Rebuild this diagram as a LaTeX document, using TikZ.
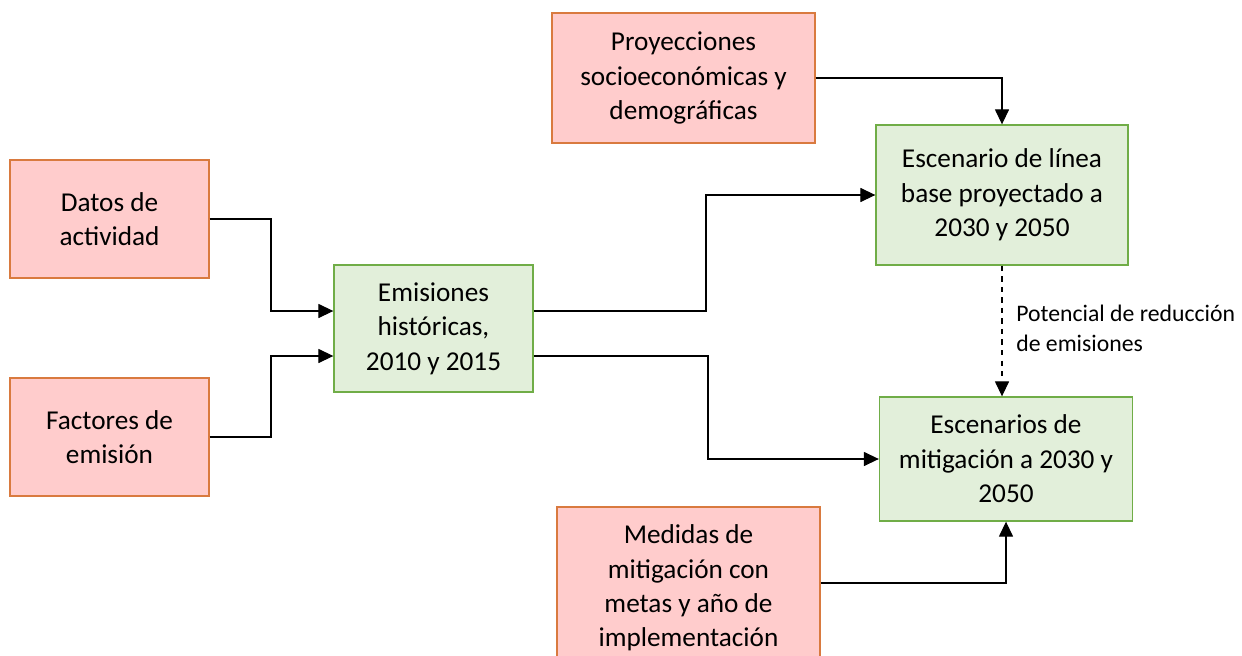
\documentclass[tikz,border=0pt]{standalone}
\usepackage{fontspec}
\setmainfont{Carlito}
\usetikzlibrary{arrows.meta}
\definecolor{redfill}{HTML}{FFCCCC}
\definecolor{redline}{HTML}{D97A3F}
\definecolor{greenfill}{HTML}{E2EFDA}
\definecolor{greenline}{HTML}{70AD47}
\tikzset{
  box/.style={draw, line width=0.8pt, align=center, inner sep=2pt,
    font=\fontsize{15.5}{19.6}\selectfont},
  redbox/.style={box, fill=redfill, draw=redline},
  greenbox/.style={box, fill=greenfill, draw=greenline},
  arr/.style={line width=0.6pt, -{Triangle[length=8.5pt,width=8pt]}}
}

\begin{document}
\begin{tikzpicture}[x=0.02cm, y=-0.02cm]
    \useasboundingbox (0,0) rectangle (1242,656);
    % inputs
    \node[redbox, minimum width=3.98cm, minimum height=2.36cm] (datos) at (109.5,219) {Datos de\\actividad};
    \node[redbox, minimum width=3.98cm, minimum height=2.36cm] (factores) at (109.5,437) {Factores de\\emisión};
    \node[redbox, minimum width=5.26cm, minimum height=2.6cm] (proy) at (683.5,78) {Proyecciones\\socioeconómicas y\\demográficas};
    \node[redbox, minimum width=5.26cm, minimum height=3.24cm] (medidas) at (688.5,588) {Medidas de\\mitigación con\\metas y año de\\implementación};
    % results
    \node[greenbox, minimum width=3.98cm, minimum height=2.54cm] (emis) at (433.5,328.5) {Emisiones\\históricas,\\2010 y 2015};
    \node[greenbox, minimum width=5.04cm, minimum height=2.8cm] (base) at (1002,195) {Escenario de línea\\base proyectado a\\2030 y 2050};
    \node[greenbox, minimum width=5.06cm, minimum height=2.48cm] (mitig) at (1006,459) {Escenarios de\\mitigación a 2030 y\\2050};
    % connectors
    \draw[arr] (datos.east) -- (271,219) |- (emis.west |- 0,311);
    \draw[arr] (factores.east) -- (271,437) |- (emis.west |- 0,356);
    \draw[arr] (emis.east |- 0,311) -- (706,311) |- (base.west);
    \draw[arr] (emis.east |- 0,356) -- (708,356) |- (mitig.west);
    \draw[arr] (proy.east) -| (base.north);
    \draw[arr] (medidas.east |- 0,583) -| (mitig.south);
    \draw[arr, dashed] (base.south) -- (base.south |- mitig.north);
    \node[anchor=west, align=left, inner sep=0pt,
      font=\fontsize{13.5}{17}\selectfont] (pot) at (1016,328)
      {Potencial de reducción\\de emisiones};
\end{tikzpicture}
\end{document}
